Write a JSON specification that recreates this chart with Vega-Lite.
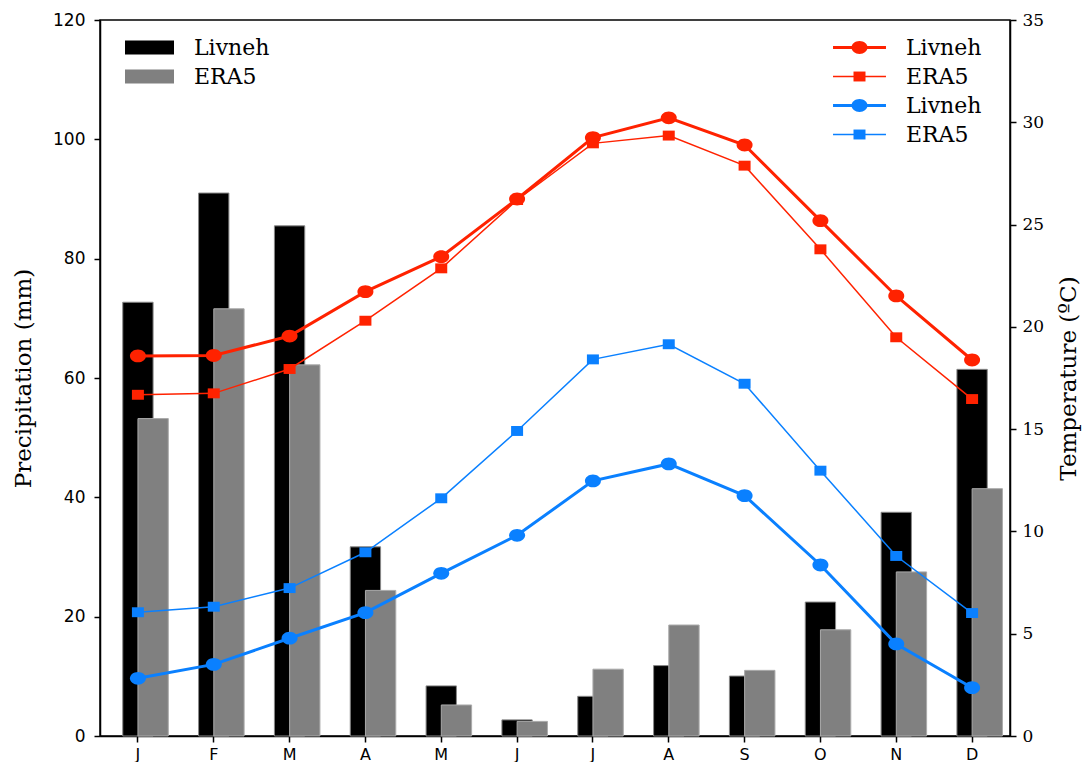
{
  "$schema": "https://vega.github.io/schema/vega-lite/v6.json",
  "autosize": {"type": "none"},
  "padding": {"left": 100, "top": 20, "right": 75, "bottom": 26},
  "width": 910,
  "height": 716,
  "background": "white",
  "config": {
    "view": {"stroke": "black", "strokeWidth": 1.5},
    "axis": {"domainColor": "black", "domainWidth": 1.5, "tickColor": "black", "tickWidth": 1.5, "tickSize": 6, "labelColor": "black", "titleColor": "black", "grid": false}
  },
  "datasets": {
    "precip": [
      {"month": "Jan", "source": "Livneh", "precip": 72.7}, {"month": "Jan", "source": "ERA5", "precip": 53.2},
      {"month": "Feb", "source": "Livneh", "precip": 91.0}, {"month": "Feb", "source": "ERA5", "precip": 71.6},
      {"month": "Mar", "source": "Livneh", "precip": 85.5}, {"month": "Mar", "source": "ERA5", "precip": 62.2},
      {"month": "Apr", "source": "Livneh", "precip": 31.7}, {"month": "Apr", "source": "ERA5", "precip": 24.4},
      {"month": "May", "source": "Livneh", "precip": 8.4}, {"month": "May", "source": "ERA5", "precip": 5.2},
      {"month": "Jun", "source": "Livneh", "precip": 2.7}, {"month": "Jun", "source": "ERA5", "precip": 2.45},
      {"month": "Jul", "source": "Livneh", "precip": 6.65}, {"month": "Jul", "source": "ERA5", "precip": 11.2},
      {"month": "Aug", "source": "Livneh", "precip": 11.8}, {"month": "Aug", "source": "ERA5", "precip": 18.6},
      {"month": "Sep", "source": "Livneh", "precip": 10.05}, {"month": "Sep", "source": "ERA5", "precip": 11.0},
      {"month": "Oct", "source": "Livneh", "precip": 22.45}, {"month": "Oct", "source": "ERA5", "precip": 17.8},
      {"month": "Nov", "source": "Livneh", "precip": 37.5}, {"month": "Nov", "source": "ERA5", "precip": 27.5},
      {"month": "Dec", "source": "Livneh", "precip": 61.45}, {"month": "Dec", "source": "ERA5", "precip": 41.45}
    ],
    "temp": [
      {"month": "Jan", "series": "Tmax Livneh", "temp": 18.58}, {"month": "Feb", "series": "Tmax Livneh", "temp": 18.6},
      {"month": "Mar", "series": "Tmax Livneh", "temp": 19.55}, {"month": "Apr", "series": "Tmax Livneh", "temp": 21.72},
      {"month": "May", "series": "Tmax Livneh", "temp": 23.43}, {"month": "Jun", "series": "Tmax Livneh", "temp": 26.25},
      {"month": "Jul", "series": "Tmax Livneh", "temp": 29.25}, {"month": "Aug", "series": "Tmax Livneh", "temp": 30.22},
      {"month": "Sep", "series": "Tmax Livneh", "temp": 28.89}, {"month": "Oct", "series": "Tmax Livneh", "temp": 25.19},
      {"month": "Nov", "series": "Tmax Livneh", "temp": 21.51}, {"month": "Dec", "series": "Tmax Livneh", "temp": 18.38},
      {"month": "Jan", "series": "Tmax ERA5", "temp": 16.68}, {"month": "Feb", "series": "Tmax ERA5", "temp": 16.75},
      {"month": "Mar", "series": "Tmax ERA5", "temp": 17.94}, {"month": "Apr", "series": "Tmax ERA5", "temp": 20.3},
      {"month": "May", "series": "Tmax ERA5", "temp": 22.86}, {"month": "Jun", "series": "Tmax ERA5", "temp": 26.2},
      {"month": "Jul", "series": "Tmax ERA5", "temp": 28.97}, {"month": "Aug", "series": "Tmax ERA5", "temp": 29.35},
      {"month": "Sep", "series": "Tmax ERA5", "temp": 27.88}, {"month": "Oct", "series": "Tmax ERA5", "temp": 23.79},
      {"month": "Nov", "series": "Tmax ERA5", "temp": 19.49}, {"month": "Dec", "series": "Tmax ERA5", "temp": 16.47},
      {"month": "Jan", "series": "Tmin Livneh", "temp": 2.82}, {"month": "Feb", "series": "Tmin Livneh", "temp": 3.5},
      {"month": "Mar", "series": "Tmin Livneh", "temp": 4.78}, {"month": "Apr", "series": "Tmin Livneh", "temp": 6.03},
      {"month": "May", "series": "Tmin Livneh", "temp": 7.95}, {"month": "Jun", "series": "Tmin Livneh", "temp": 9.81},
      {"month": "Jul", "series": "Tmin Livneh", "temp": 12.47}, {"month": "Aug", "series": "Tmin Livneh", "temp": 13.3},
      {"month": "Sep", "series": "Tmin Livneh", "temp": 11.75}, {"month": "Oct", "series": "Tmin Livneh", "temp": 8.36},
      {"month": "Nov", "series": "Tmin Livneh", "temp": 4.5}, {"month": "Dec", "series": "Tmin Livneh", "temp": 2.36},
      {"month": "Jan", "series": "Tmin ERA5", "temp": 6.05}, {"month": "Feb", "series": "Tmin ERA5", "temp": 6.32},
      {"month": "Mar", "series": "Tmin ERA5", "temp": 7.23}, {"month": "Apr", "series": "Tmin ERA5", "temp": 8.98},
      {"month": "May", "series": "Tmin ERA5", "temp": 11.62}, {"month": "Jun", "series": "Tmin ERA5", "temp": 14.91},
      {"month": "Jul", "series": "Tmin ERA5", "temp": 18.41}, {"month": "Aug", "series": "Tmin ERA5", "temp": 19.15},
      {"month": "Sep", "series": "Tmin ERA5", "temp": 17.22}, {"month": "Oct", "series": "Tmin ERA5", "temp": 12.97},
      {"month": "Nov", "series": "Tmin ERA5", "temp": 8.8}, {"month": "Dec", "series": "Tmin ERA5", "temp": 6.01}
    ]
  },
  "encoding": {
    "x": {
      "field": "month", "type": "nominal",
      "scale": {"domain": ["Jan","Feb","Mar","Apr","May","Jun","Jul","Aug","Sep","Oct","Nov","Dec"], "paddingInner": 0, "paddingOuter": 0},
      "axis": {"title": null, "labelAngle": 0, "labelExpr": "substring(datum.label, 0, 1)", "labelFont": "DejaVu Sans", "labelFontSize": 16, "labelPadding": 4}
    }
  },
  "layer": [
    {
      "data": {"name": "precip"},
      "encoding": {
        "y": {
          "field": "precip", "type": "quantitative",
          "scale": {"domain": [0, 120], "nice": false, "zero": true},
          "axis": {"values": [0,20,40,60,80,100,120], "title": "Precipitation (mm)", "titleFont": "DejaVu Serif", "titleFontSize": 23, "titleFontWeight": "normal", "titlePadding": 17, "labelFont": "DejaVu Sans", "labelFontSize": 17, "labelPadding": 9}
        },
        "fill": {
          "field": "source", "type": "nominal",
          "scale": {"domain": ["Livneh", "ERA5"], "range": ["black", "#808080"]},
          "legend": {
            "title": null, "orient": "none", "legendX": 38.5, "legendY": 16.5, "padding": 0,
            "labelFont": "DejaVu Serif", "labelFontSize": 22, "labelColor": "black", "labelOffset": 33.5,
            "symbolType": "M-3.5,-1H3.5V1H-3.5Z", "symbolSize": 196, "symbolStrokeWidth": 0, "rowPadding": 7
          }
        }
      },
      "layer": [
        {
          "transform": [{"filter": "datum.source === 'Livneh'"}],
          "mark": {"type": "bar", "width": {"band": 0.4}, "stroke": "#888888", "strokeWidth": 1}
        },
        {
          "transform": [{"filter": "datum.source === 'ERA5'"}],
          "mark": {"type": "bar", "width": {"band": 0.4}, "xOffset": 15.2, "stroke": "#aaaaaa", "strokeWidth": 1}
        }
      ]
    },
    {
      "data": {"name": "temp"},
      "encoding": {
        "y": {
          "field": "temp", "type": "quantitative",
          "scale": {"domain": [0, 35], "nice": false, "zero": true},
          "axis": {"orient": "right", "values": [0,5,10,15,20,25,30,35], "title": "Temperature (ºC)", "titleAngle": -90, "titleBaseline": "top", "titleFont": "DejaVu Serif", "titleFontSize": 23, "titleFontWeight": "normal", "titlePadding": 14, "labelFont": "DejaVu Serif", "labelFontSize": 17, "labelPadding": 6}
        }
      },
      "layer": [
        {
          "mark": {"type": "line"},
          "encoding": {
            "color": {
              "field": "series", "type": "nominal",
              "scale": {"domain": ["Tmax Livneh", "Tmax ERA5", "Tmin Livneh", "Tmin ERA5"], "range": ["#ff2200", "#ff2200", "#0a80ff", "#0a80ff"]},
              "legend": {
                "title": null, "orient": "none", "legendX": 748.5, "legendY": 16.5, "padding": 0,
                "labelFont": "DejaVu Serif", "labelFontSize": 22, "labelColor": "black", "labelOffset": 35.5,
                "labelExpr": "substring(datum.label, 5)",
                "symbolType": "M-3.31,0H3.31", "symbolSize": 256, "rowPadding": 7
              }
            },
            "strokeWidth": {
              "field": "series", "type": "nominal",
              "scale": {"type": "ordinal", "domain": ["Tmax Livneh", "Tmax ERA5", "Tmin Livneh", "Tmin ERA5"], "range": [3, 1.5, 3, 1.5]},
              "legend": {
                "title": null, "orient": "none", "legendX": 748.5, "legendY": 16.5, "padding": 0,
                "labelFont": "DejaVu Serif", "labelFontSize": 22, "labelColor": "black", "labelOffset": 35.5,
                "labelExpr": "substring(datum.label, 5)",
                "symbolType": "M-3.31,0H3.31", "symbolSize": 256, "rowPadding": 7
              }
            }
          }
        },
        {
          "mark": {"type": "point", "filled": true, "opacity": 1, "size": 256},
          "encoding": {
            "color": {
              "field": "series", "type": "nominal",
              "scale": {"domain": ["Tmax Livneh", "Tmax ERA5", "Tmin Livneh", "Tmin ERA5"], "range": ["#ff2200", "#ff2200", "#0a80ff", "#0a80ff"]},
              "legend": {
                "title": null, "orient": "none", "legendX": 748.5, "legendY": 16.5, "padding": 0,
                "labelFont": "DejaVu Serif", "labelFontSize": 22, "labelColor": "black", "labelOffset": 35.5,
                "labelExpr": "''",
                "symbolSize": 256, "symbolStrokeWidth": 0, "symbolOpacity": 1, "rowPadding": 7
              }
            },
            "shape": {
              "field": "series", "type": "nominal",
              "scale": {"domain": ["Tmax Livneh", "Tmax ERA5", "Tmin Livneh", "Tmin ERA5"], "range": ["M-1,0A1,0.8 0 1,0 1,0A1,0.8 0 1,0 -1,0Z", "M-0.75,-0.62H0.75V0.62H-0.75Z", "M-1,0A1,0.8 0 1,0 1,0A1,0.8 0 1,0 -1,0Z", "M-0.75,-0.62H0.75V0.62H-0.75Z"]},
              "legend": {
                "title": null, "orient": "none", "legendX": 748.5, "legendY": 16.5, "padding": 0,
                "labelFont": "DejaVu Serif", "labelFontSize": 22, "labelColor": "black", "labelOffset": 35.5,
                "labelExpr": "''",
                "symbolSize": 256, "symbolStrokeWidth": 0, "symbolOpacity": 1, "rowPadding": 7
              }
            }
          }
        }
      ],
      "resolve": {"legend": {"color": "independent", "strokeWidth": "independent", "shape": "independent"}}
    }
  ],
  "resolve": {"scale": {"y": "independent"}}
}
